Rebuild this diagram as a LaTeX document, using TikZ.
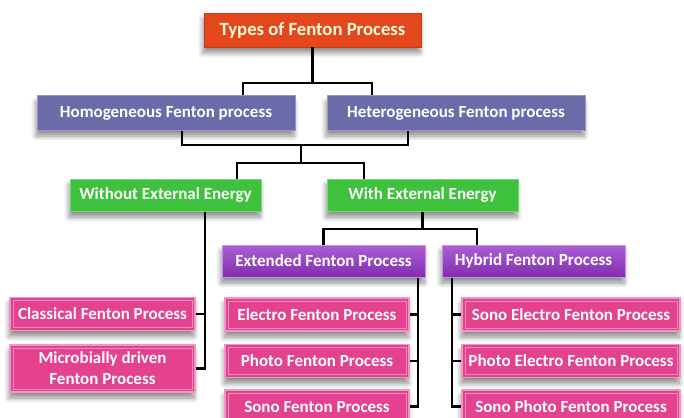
\documentclass[tikz,border=0pt]{standalone}
\usepackage{fontspec}
\setmainfont{Carlito}
\usetikzlibrary{shadows.blur}

\definecolor{fentonred}{HTML}{E4471C}
\definecolor{fentonslate}{HTML}{6B6BAA}
\definecolor{fentongreen}{HTML}{3EC23E}
\definecolor{fentonpurple}{HTML}{9736CC}
\definecolor{fentonpink}{HTML}{E4428F}

\tikzset{
  box/.style={rectangle, inner sep=1pt, align=center, text=white, font=\bfseries,
    blur shadow={shadow xshift=-1pt, shadow yshift=-6pt, shadow blur radius=5pt,
      shadow blur steps=8, shadow opacity=45}},
  typebox/.style={box, fill=fentonred, draw=fentonred!85!black, line width=0.6pt,
    text=yellow!15, minimum width=217pt, minimum height=34pt, font=\bfseries\fontsize{18.7}{22}\selectfont},
  methbox/.style={box, fill=fentonslate, draw=fentonslate!70!white, line width=1pt,
    minimum width=258pt, minimum height=34pt, font=\bfseries\fontsize{17}{20}\selectfont},
  energybox/.style={box, fill=fentongreen, draw=fentongreen!70!white, line width=1pt,
    minimum width=191pt, minimum height=32pt, font=\bfseries\fontsize{17}{20}\selectfont},
  groupbox/.style={box, top color=fentonpurple!80!white, bottom color=fentonpurple!85!black,
    draw=fentonpurple!55!white, line width=1pt, minimum height=32pt,
    font=\bfseries\fontsize{17}{20}\selectfont},
  procbox/.style={box, fill=fentonpink, draw=fentonpink!55!white, line width=1.2pt,
    minimum height=33pt, font=\bfseries\fontsize{17}{21}\selectfont,
    path picture={\draw[fentonpink!60!white, line width=0.6pt]
      ([xshift=3pt,yshift=-3pt]path picture bounding box.north west) rectangle
      ([xshift=-3pt,yshift=3pt]path picture bounding box.south east);}},
  link/.style={draw=black, line width=2.4pt}
}

\begin{document}
\begin{tikzpicture}[x=1pt,y=-1pt]
\useasboundingbox (0,0) rectangle (684,417);

% boxes
\node[typebox] (top) at (312.5,30) {Types of Fenton Process};

\node[methbox] (hom) at (166,113) {Homogeneous Fenton process};
\node[methbox] (het) at (456,113) {Heterogeneous Fenton process};

\node[energybox] (wo) at (165.5,195) {Without External Energy};
\node[energybox] (wi) at (422.5,195) {With External Energy};

\node[groupbox, minimum width=203pt] (ext) at (323.5,261) {Extended Fenton Process};
\node[groupbox, minimum width=183pt] (hyb) at (533.5,261) {Hybrid Fenton Process};

\node[procbox, minimum width=185pt] (cla) at (102.5,314) {Classical Fenton Process};
\node[procbox, minimum width=185pt, minimum height=47pt] (mic) at (102.5,368.5) {Microbially driven\\Fenton Process};

\node[procbox, minimum width=184pt] (ele) at (317,314.5) {Electro Fenton Process};
\node[procbox, minimum width=184pt] (pho) at (317,361) {Photo Fenton Process};
\node[procbox, minimum width=184pt] (son) at (317,406.5) {Sono Fenton Process};

\node[procbox, minimum width=218pt] (sel) at (571,314.5) {Sono Electro Fenton Process};
\node[procbox, minimum width=218pt] (pel) at (571,361) {Photo Electro Fenton Process};
\node[procbox, minimum width=218pt] (spf) at (571,406.5) {Sono Photo Fenton Process};

% junctions
\coordinate (b1) at (307,83);
\coordinate (b2) at (301,145);
\coordinate (b3) at (301,163);
\coordinate (b4) at (422.5,229);
\coordinate (wl) at ([xshift=39.5pt]wo.south);
\coordinate (el) at ([xshift=94.5pt]ext.south);
\coordinate (hl) at ([xshift=-81.5pt]hyb.south);

% connectors
\draw[link] (top.south) -- (top.south |- b1);
\draw[link] ([xshift=77pt]hom.north) |- (b1) -| ([xshift=-84pt]het.north);

\draw[link] ([xshift=16pt]hom.south) |- (b2) -| ([xshift=-48pt]het.south);
\draw[link] (b2) -- (b3);
\draw[link] ([xshift=71.5pt]wo.north) |- (b3) -| ([xshift=-58.5pt]wi.north);

\draw[link] (wi.south) -- (b4);
\draw[link] (ext.north) |- (b4) -| ([xshift=-56.5pt]hyb.north);

\draw[link] (wl) |- (mic.east);
\draw[link] (cla.east) -- (cla.east -| wl);

\draw[link] (el) |- (son.east);
\draw[link] (ele.east) -- (ele.east -| el);
\draw[link] (pho.east) -- (pho.east -| el);

\draw[link] (hl) |- (spf.west);
\draw[link] (sel.west) -- (sel.west -| hl);
\draw[link] (pel.west) -- (pel.west -| hl);
\end{tikzpicture}
\end{document}
